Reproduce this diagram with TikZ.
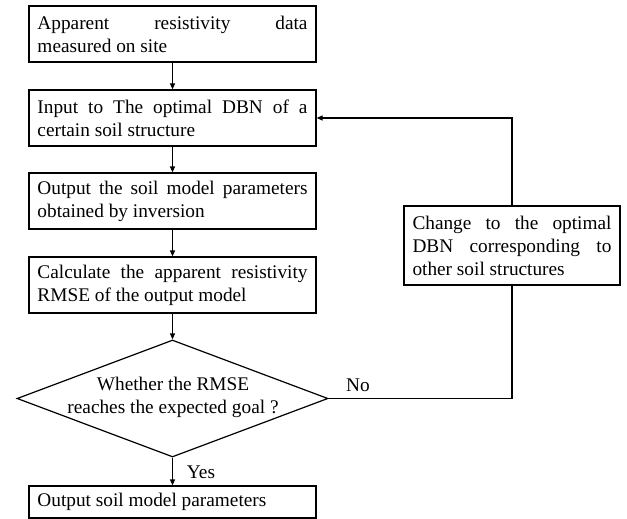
\documentclass[tikz,border=0pt]{standalone}
\usepackage{fontspec}
\setmainfont{Liberation Serif}
\usetikzlibrary{shapes.geometric,arrows.meta}
\begin{document}
\begin{tikzpicture}[x={(1pt,0)},y={(0,-1pt)},
  every node/.style={font=\fontsize{19.3}{23}\selectfont},
  proc/.style={draw,line width=1.2pt,rectangle,inner xsep=8.5pt,inner ysep=0pt,
    text width=270pt,minimum height=56pt,align=justify,
    execute at begin node={\hyphenpenalty=10000\tolerance=10000\hbadness=10000}},
  decis/.style={draw,line width=1.2pt,shape=diamond,inner sep=0pt,
    minimum width=311pt,minimum height=117pt},
  conn/.style={line width=1.2pt},
  arr/.style={conn,-{Triangle[length=6pt,width=5pt]}}]
\useasboundingbox (0,0) rectangle (627,519);
\node[proc] (a) at (172.5,34) {Apparent resistivity data\linebreak measured on site};
\node[proc] (b) at (172.5,118) {Input to The optimal DBN of a\linebreak certain soil structure};
\node[proc] (c) at (172.5,201) {Output the soil model parameters\linebreak obtained by inversion};
\node[proc] (d) at (172.5,285) {Calculate the apparent resistivity\linebreak RMSE of the output model};
\node[decis] (e) at (172.5,398.5) {};
\node[align=center,inner sep=0pt] (et) at (173,397.5) {Whether the RMSE\\reaches the expected goal ?};
\node[proc,minimum height=32pt] (f) at (172.5,502) {Output soil model parameters};
\node[proc,text width=199pt,minimum height=79pt] (g) at (512,245.5) {Change to the optimal\linebreak DBN corresponding to\linebreak other soil structures};
\node[inner sep=0pt] (no) at (358,385) {No};
\node[inner sep=0pt] (yes) at (201,472) {Yes};
\draw[arr] (a) -- (b);
\draw[arr] (b) -- (c);
\draw[arr] (c) -- (d);
\draw[arr] (d) -- (e.north);
\draw[arr] (e.south) -- (f);
\draw[conn] (e.east) -| (g.south);
\draw[arr] (g.north) |- (b.east);
\end{tikzpicture}
\end{document}
